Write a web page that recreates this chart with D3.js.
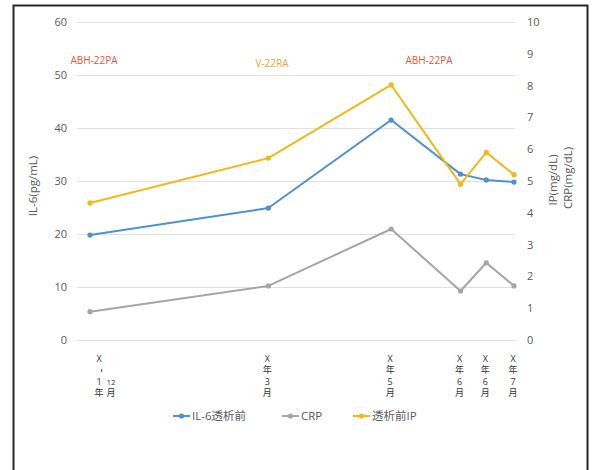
<!DOCTYPE html>
<html>
<head>
<meta charset="utf-8">
<script src="https://cdn.jsdelivr.net/npm/d3@7"></script>
<style>
  body { margin: 0; background: #fff; }
  text { font-family: "Open Sans", "Noto Sans CJK JP", sans-serif; }
</style>
</head>
<body>
<div id="vis"></div>
<script>
// data
var dates = ["2020-12-10", "2021-03-10", "2021-05-11", "2021-06-15", "2021-06-28", "2021-07-12"],
    xLabels = [["X", "-", "1", "年", "12", "月"], ["X", "年", "3", "月"], ["X", "年", "5", "月"],
               ["X", "年", "6", "月"], ["X", "年", "6", "月"], ["X", "年", "7", "月"]],
    il6 = [19.8, 24.9, 41.5, 31.3, 30.2, 29.8],     // left axis pg/mL
    crp = [0.89, 1.70, 3.49, 1.54, 2.43, 1.70],     // right axis mg/dL
    ip  = [4.31, 5.72, 8.02, 4.90, 5.90, 5.20],     // right axis mg/dL
    leftTicks = [0, 10, 20, 30, 40, 50, 60],
    rightTicks = [0, 1, 2, 3, 4, 5, 6, 7, 8, 9, 10],
    seriesNames = ["IL-6透析前", "CRP", "透析前IP"],
    notes = ["ABH-22PA", "V-22RA", "ABH-22PA"];

var w = 596, h = 470,
    plotLeft = 77, plotRight = 515, plotTop = 22, plotBottom = 340,
    grey = "#595959",
    colors = ["#4f90d2", "#a5a5a5", "#f2b819"];

var parseDate = d3.timeParse("%Y-%m-%d");
var days = dates.map(parseDate);

var x = d3.scaleTime().domain(d3.extent(days)).range([90, 514]);
var yL = d3.scaleLinear().domain([0, 60]).range([plotBottom, plotTop]);
var yR = d3.scaleLinear().domain([0, 10]).range([plotBottom, plotTop]);

var svg = d3.select("#vis").append("svg")
    .attr("width", w)
    .attr("height", h);

svg.append("rect").attr("width", w).attr("height", h).attr("fill", "#fff");

// frame
svg.append("rect")
   .attr("x", 13.5).attr("y", 5.5)
   .attr("width", 574).attr("height", 480)
   .attr("fill", "none")
   .attr("stroke", "#262626")
   .attr("stroke-width", 2);

// gridlines
svg.selectAll(".grid")
   .data(leftTicks)
   .enter().append("line")
   .attr("x1", plotLeft).attr("x2", plotRight)
   .attr("y1", function(d) { return yL(d) + 0.5; })
   .attr("y2", function(d) { return yL(d) + 0.5; })
   .attr("stroke", "#e0e0e0")
   .attr("stroke-width", 1);

// left tick labels
svg.selectAll(".yLabel")
   .data(leftTicks)
   .enter().append("text")
   .attr("x", 67)
   .attr("y", function(d) { return yL(d); })
   .attr("dy", 4)
   .attr("text-anchor", "end")
   .attr("font-size", 11)
   .attr("fill", grey)
   .text(String);

// right tick labels
svg.selectAll(".yLabelR")
   .data(rightTicks)
   .enter().append("text")
   .attr("x", 527)
   .attr("y", function(d) { return yR(d); })
   .attr("dy", 4)
   .attr("font-size", 11)
   .attr("fill", grey)
   .text(String);

// axis titles
svg.append("text")
   .attr("transform", "translate(37,186) rotate(-90)")
   .attr("text-anchor", "middle")
   .attr("font-size", 11.5)
   .attr("fill", grey)
   .text("IL-6(pg/mL)");
svg.append("text")
   .attr("transform", "translate(557,180) rotate(-90)")
   .attr("text-anchor", "middle")
   .attr("font-size", 11.5)
   .attr("fill", grey)
   .text("IP(mg/dL)");
svg.append("text")
   .attr("transform", "translate(572,178) rotate(-90)")
   .attr("text-anchor", "middle")
   .attr("font-size", 11.5)
   .attr("fill", grey)
   .text("CRP(mg/dL)");

// x labels, stacked vertically, one glyph per row
xLabels.forEach(function(tokens, i) {
    var cx = x(days[i]);
    var cols = tokens.length > 4 ? [tokens.slice(0, 4), tokens.slice(4)] : [tokens];
    cols.forEach(function(col, c) {
        var colX = cols.length > 1 ? cx + 9 + c * 12 : cx - 1;
        var startRow = 4 - col.length;
        col.forEach(function(t, r) {
            var ty = 358 + (startRow + r) * 11.5;
            var el = svg.append("text")
               .attr("x", colX)
               .attr("y", ty)
               .attr("dy", 3.5)
               .attr("text-anchor", "middle")
               .attr("font-size", t.length > 1 ? 8 : 9)
               .attr("fill", "#333")
               .text(t);
            if (t == "-") el.attr("transform", "rotate(90," + colX + "," + ty + ")")
                            .attr("font-size", 12).attr("dy", 1).attr("x", colX + 1);
        });
    });
});

// annotations
var noteColors = ["#e4583c", "#eba52a", "#e4583c"],
    notePos = [[94, 60], [272, 63], [429, 60]];
svg.selectAll(".note")
   .data(notes)
   .enter().append("text")
   .attr("x", function(d, i) { return notePos[i][0]; })
   .attr("y", function(d, i) { return notePos[i][1]; })
   .attr("dy", 4)
   .attr("text-anchor", "middle")
   .attr("font-size", 10)
   .attr("fill", function(d, i) { return noteColors[i]; })
   .text(String);

// series
var series = [
    { vals: il6, scale: yL, color: colors[0] },
    { vals: crp, scale: yR, color: colors[1] },
    { vals: ip,  scale: yR, color: colors[2] }
];

series.forEach(function(s) {
    var line = d3.line()
        .x(function(d, i) { return x(days[i]); })
        .y(function(d) { return s.scale(d); });
    svg.append("path")
       .datum(s.vals)
       .attr("d", line)
       .attr("fill", "none")
       .attr("stroke", s.color)
       .attr("stroke-width", 2)
       .attr("stroke-linejoin", "round");
    svg.selectAll(null)
       .data(s.vals)
       .enter().append("circle")
       .attr("cx", function(d, i) { return x(days[i]); })
       .attr("cy", function(d) { return s.scale(d); })
       .attr("r", 2.6)
       .attr("fill", s.color);
});

// legend
var legX = [173, 282, 353];
seriesNames.forEach(function(name, i) {
    var g = svg.append("g").attr("transform", "translate(" + legX[i] + ",416)");
    g.append("line").attr("x1", 0).attr("x2", 17).attr("y1", 0).attr("y2", 0)
     .attr("stroke", colors[i]).attr("stroke-width", 2);
    g.append("circle").attr("cx", 8.5).attr("cy", 0).attr("r", 2.6).attr("fill", colors[i]);
    g.append("text").attr("x", 19).attr("dy", 4)
     .attr("font-size", 11.5).attr("fill", grey).text(name);
});
</script>
</body>
</html>
